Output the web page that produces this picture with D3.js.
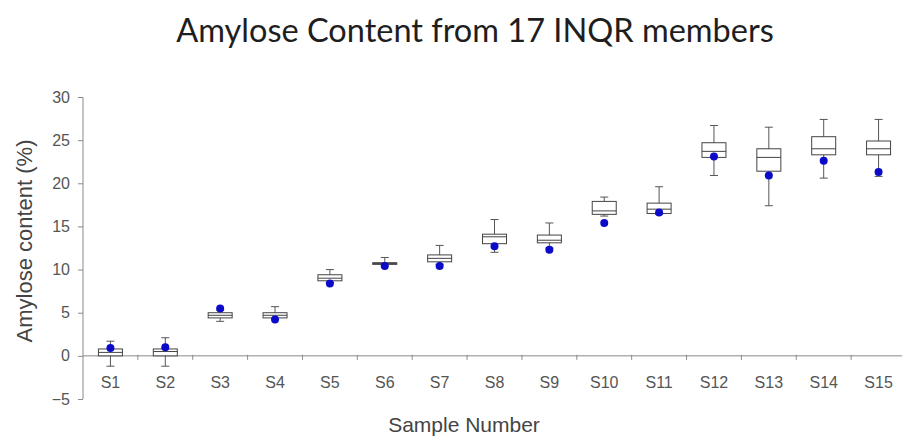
<!DOCTYPE html>
<html>
<head>
<meta charset="utf-8">
<script src="https://cdn.jsdelivr.net/npm/d3@7"></script>
<style>
  body { margin: 0; background: #fff; }
  svg { display: block; }
  .axis path, .axis line { stroke: #8a8a8a; }
  .axis text { fill: #555; font-family: "Liberation Sans", Arial, sans-serif; font-size: 16px; }
</style>
</head>
<body>
<svg class="root"></svg>
<script>
var samples = ["S1","S2","S3","S4","S5","S6","S7","S8","S9","S10","S11","S12","S13","S14","S15"];
var whiskerLow  = [-1.2, -1.2, 4.0, 4.2, 8.5, 10.4, 10.6, 12.0, 12.5, 16.2, 16.4, 20.9, 17.4, 20.6, 20.8];
var q1          = [ 0.0,  0.0, 4.4, 4.4, 8.7, 10.6, 10.9, 13.0, 13.1, 16.4, 16.5, 23.0, 21.4, 23.3, 23.3];
var median      = [ 0.4,  0.5, 4.7, 4.7, 9.0, 10.7, 11.3, 13.8, 13.4, 16.8, 17.0, 23.7, 23.0, 24.0, 24.0];
var q3          = [ 0.8,  0.8, 5.0, 5.0, 9.4, 10.8, 11.7, 14.1, 14.0, 17.9, 17.7, 24.7, 24.0, 25.4, 24.9];
var whiskerHigh = [ 1.7,  2.1, 5.3, 5.7, 10.0, 11.4, 12.8, 15.8, 15.4, 18.4, 19.6, 26.7, 26.5, 27.4, 27.4];
var reference   = [ 0.9,  1.0, 5.5, 4.2, 8.4, 10.4, 10.4, 12.7, 12.3, 15.4, 16.6, 23.1, 20.9, 22.6, 21.3];
var yTicks = [-5, 0, 5, 10, 15, 20, 25, 30];

var width = 902, height = 439;

var svg = d3.select(".root")
    .attr("width", width)
    .attr("height", height);

var x = d3.scaleBand()
    .domain(samples)
    .range([83, 906])
    .padding(0);

var y = d3.scaleLinear()
    .domain([-5, 30])
    .range([399, 97]);

var rows = samples.map((s, i) => {
  return {s: s, lo: whiskerLow[i], q1: q1[i], med: median[i], q3: q3[i], hi: whiskerHigh[i], ref: reference[i]};
});

// title
svg.append("text")
  .attr("x", 475)
  .attr("y", 42)
  .attr("text-anchor", "middle")
  .style("font-family", "Lato, 'Open Sans', sans-serif")
  .style("font-size", "32.5px")
  .style("fill", "#1e1e1e")
  .text("Amylose Content from 17 INQR members");

// y axis
svg.append("g")
  .attr("class", "axis")
  .attr("transform", "translate(" + x.range()[0] + ",0)")
  .call(d3.axisLeft(y).tickValues(yTicks).tickSize(5).tickSizeOuter(0).tickPadding(8))
  .call(g => g.select(".domain").attr("d", "M0," + y(30) + "V" + y(-5)));

// x axis at zero, labels only
var xg = svg.append("g")
  .attr("class", "axis")
  .attr("transform", "translate(0," + y(0) + ")")
  .call(d3.axisBottom(x).tickSize(0).tickPadding(21));
xg.select(".domain").attr("d", "M" + x.range()[0] + ",0H" + width);

// boundary ticks between samples
xg.selectAll(".bound")
    .data(samples.slice(1))
  .enter().append("line")
    .attr("class", "bound")
    .attr("x1", d => x(d))
    .attr("x2", d => x(d))
    .attr("y1", -1)
    .attr("y2", 4)
    .attr("stroke", "#8a8a8a");

// axis titles
svg.append("text")
  .attr("text-anchor", "middle")
  .attr("transform", "translate(32," + 241 + ")rotate(-90)")
  .style("font-family", "'Liberation Sans', Arial, sans-serif")
  .style("font-size", "22px")
  .style("fill", "#444")
  .text("Amylose content (%)");

svg.append("text")
  .attr("text-anchor", "middle")
  .attr("x", 464)
  .attr("y", 432)
  .style("font-family", "'Liberation Sans', Arial, sans-serif")
  .style("font-size", "21px")
  .style("fill", "#444")
  .text("Sample Number");

// box plots
var boxW = 24, capW = 8;
var box = svg.selectAll(".box")
    .data(rows)
  .enter().append("g")
    .attr("class", "box")
    .attr("transform", d => "translate(" + (x(d.s) + x.bandwidth() / 2) + ",0)");

box.append("line")
  .attr("x1", 0).attr("x2", 0)
  .attr("y1", d => y(d.hi)).attr("y2", d => y(d.lo))
  .attr("stroke", "#555");

box.append("line")
  .attr("x1", -capW / 2).attr("x2", capW / 2)
  .attr("y1", d => y(d.hi)).attr("y2", d => y(d.hi))
  .attr("stroke", "#555");

box.append("line")
  .attr("x1", -capW / 2).attr("x2", capW / 2)
  .attr("y1", d => y(d.lo)).attr("y2", d => y(d.lo))
  .attr("stroke", "#555");

box.append("rect")
  .attr("x", -boxW / 2)
  .attr("width", boxW)
  .attr("y", d => y(d.q3))
  .attr("height", d => y(d.q1) - y(d.q3))
  .attr("fill", "#fff")
  .attr("stroke", "#444");

box.append("line")
  .attr("x1", -boxW / 2).attr("x2", boxW / 2)
  .attr("y1", d => y(d.med)).attr("y2", d => y(d.med))
  .attr("stroke", "#444");

box.append("circle")
  .attr("cy", d => y(d.ref))
  .attr("r", 4)
  .attr("fill", "#0a0ac8");
</script>
</body>
</html>
